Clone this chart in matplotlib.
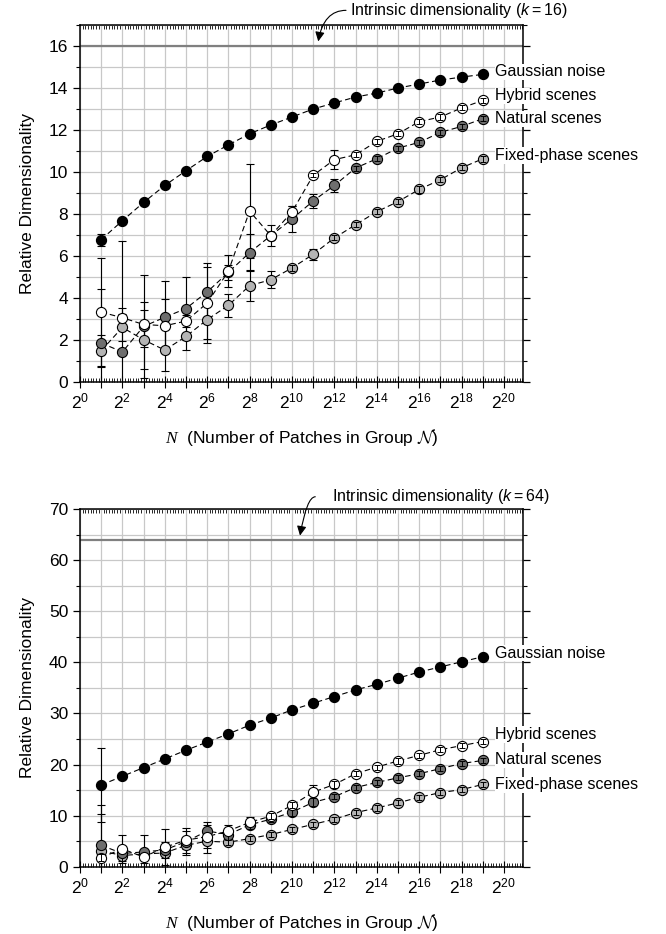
import numpy as np
import matplotlib
matplotlib.use('Agg')
import matplotlib.pyplot as plt
from matplotlib.ticker import FixedLocator, FuncFormatter, MultipleLocator, NullFormatter

plt.rcParams['font.family'] = ['Liberation Sans', 'DejaVu Sans']
plt.rcParams['mathtext.fontset'] = 'custom'
plt.rcParams['mathtext.rm'] = 'Liberation Sans'
plt.rcParams['mathtext.it'] = 'Liberation Sans:italic'
plt.rcParams['mathtext.sf'] = 'Liberation Serif:italic'
plt.rcParams['mathtext.cal'] = 'cmsy10'

# group sizes N = 2^1 ... 2^19
exponents = np.arange(1, 20)

series_names = ['Gaussian noise', 'Hybrid scenes', 'Natural scenes', 'Fixed-phase scenes']
series_colors = ['#000000', '#ffffff', '#6e6e6e', '#b4b4b4']

# k = 16 panel
gauss16 = [6.78, 7.68, 8.55, 9.36, 10.06, 10.74, 11.29, 11.82, 12.24, 12.62,
           13.00, 13.29, 13.57, 13.76, 14.00, 14.19, 14.38, 14.52, 14.65]
hybrid16 = [3.33, 3.06, 2.74, 2.68, 2.90, 3.76, 5.27, 8.14, 6.97, 8.10,
            9.84, 10.59, 10.82, 11.46, 11.82, 12.40, 12.62, 13.05, 13.41]
natural16 = [1.86, 1.43, 2.65, 3.08, 3.50, 4.29, 5.22, 6.16, 6.97, 7.76,
             8.62, 9.36, 10.19, 10.63, 11.14, 11.41, 11.89, 12.17, 12.54]
fixed16 = [1.49, 2.60, 2.01, 1.52, 2.17, 2.97, 3.65, 4.59, 4.87, 5.43,
           6.08, 6.86, 7.49, 8.11, 8.59, 9.17, 9.63, 10.20, 10.63]
gauss16_err = [0.28, 0.10, 0.10, 0.10, 0.10, 0.10, 0.10, 0.10, 0.10, 0.10,
               0.10, 0.10, 0.10, 0.10, 0.10, 0.10, 0.10, 0.10, 0.10]
hybrid16_err = [2.56, 0.48, 1.07, 1.27, 0.30, 1.72, 0.76, 2.22, 0.50, 0.30,
                0.10, 0.45, 0.12, 0.12, 0.12, 0.12, 0.15, 0.12, 0.12]
natural16_err = [2.58, 5.28, 2.45, 1.71, 1.50, 1.38, 0.35, 0.87, 0.20, 0.64,
                 0.33, 0.30, 0.12, 0.12, 0.12, 0.12, 0.12, 0.12, 0.12]
fixed16_err = [0.76, 0.65, 1.40, 1.00, 0.63, 1.11, 0.55, 0.73, 0.40, 0.12,
               0.25, 0.12, 0.12, 0.12, 0.12, 0.15, 0.12, 0.12, 0.15]

# k = 64 panel
gauss64 = [16.0, 17.7, 19.4, 21.1, 22.8, 24.4, 26.0, 27.7, 29.1, 30.7,
           32.0, 33.3, 34.6, 35.7, 36.9, 38.1, 39.1, 40.1, 41.1]
hybrid64 = [1.8, 3.5, 1.9, 3.8, 5.2, 5.9, 7.0, 8.7, 9.9, 12.0,
            14.6, 16.1, 18.2, 19.5, 20.7, 21.8, 22.9, 23.7, 24.5]
natural64 = [4.2, 2.6, 2.9, 3.3, 4.9, 7.0, 6.3, 8.2, 9.3, 10.7,
             12.6, 13.7, 15.5, 16.5, 17.4, 18.2, 19.2, 20.2, 20.8]
fixed64 = [3.1, 2.2, 2.5, 2.7, 4.2, 5.0, 4.8, 5.5, 6.3, 7.3,
           8.3, 9.3, 10.6, 11.5, 12.5, 13.6, 14.5, 15.1, 16.1]
gauss64_err = [7.3, 0.4, 0.4, 0.4, 0.4, 0.4, 0.4, 0.4, 0.4, 0.4,
               0.4, 0.4, 0.4, 0.4, 0.4, 0.4, 0.4, 0.4, 0.4]
hybrid64_err = [0.6, 2.8, 1.2, 3.5, 1.7, 2.3, 1.2, 1.1, 0.6, 0.6,
                1.4, 0.6, 0.5, 0.5, 0.5, 0.5, 0.5, 0.5, 0.5]
natural64_err = [7.8, 1.5, 3.3, 1.6, 2.6, 1.8, 1.0, 0.8, 0.6, 0.8,
                 0.8, 0.5, 0.5, 0.5, 0.5, 0.5, 0.5, 0.5, 0.5]
fixed64_err = [7.3, 1.0, 1.0, 1.0, 1.6, 2.3, 0.5, 0.5, 0.5, 0.5,
               0.5, 0.5, 0.5, 0.5, 0.5, 0.5, 0.5, 0.5, 0.5]


def draw_panel(ax, values, errors, k, ymax, ymajor, yminor, label_y, small_err,
               arrow_head, arrow_tail, text_pos):
    """Draws one panel of relative dimensionality vs group size"""
    N = 2.0 ** exponents

    # horizontal line at the intrinsic dimensionality
    ax.axhline(k, color='#808080', lw=1.6, zorder=1.2)

    # draw in reverse so hybrid and gaussian markers sit on top
    for i in [3, 2, 1, 0]:
        vals = np.array(values[i])
        errs = np.array(errors[i])
        z = 2 + 0.1 * (3 - i)
        ax.plot(N, vals, ls=(0, (5, 3)), color='black', lw=0.8, marker='o',
                ms=7.3, mfc=series_colors[i], mec='black', mew=0.8, zorder=z)
        # big error bars start at the marker, small ones sit on top of it
        big = errs > small_err
        ax.errorbar(N[big], vals[big], yerr=errs[big], fmt='none', ecolor='black',
                    elinewidth=0.8, capsize=3, capthick=0.8, zorder=1.5)
        ax.errorbar(N[~big], vals[~big], yerr=errs[~big], fmt='none', ecolor='black',
                    elinewidth=0.7, capsize=2.5, capthick=0.7, zorder=z + 0.05)

    # series labels on the right, with white boxes over the frame
    for name, y in zip(series_names, label_y):
        ax.text(2 ** 19.6, y, name, ha='left', va='center', fontsize=11.5,
                clip_on=False, zorder=5,
                bbox=dict(facecolor='white', edgecolor='none', pad=0.5))

    ax.annotate('', xy=arrow_head, xytext=arrow_tail, annotation_clip=False,
                arrowprops=dict(arrowstyle='-|>', color='black', lw=0.8,
                                connectionstyle='angle3,angleA=0,angleB=80',
                                shrinkA=0, shrinkB=0, mutation_scale=14))
    ax.text(text_pos[0], text_pos[1], r'Intrinsic dimensionality ($k=%d$)' % k,
            ha='left', va='center', fontsize=11.5, clip_on=False)

    ax.set_xscale('log', base=2)
    ax.set_xlim(1, 2 ** 20.9)
    ax.set_ylim(0, ymax)

    ax.xaxis.set_major_locator(FixedLocator([2.0 ** e for e in range(0, 21)]))
    ax.xaxis.set_major_formatter(FuncFormatter(
        lambda v, p: '$2^{%d}$' % round(np.log2(v)) if round(np.log2(v)) % 2 == 0 else ''))
    minor = [2.0 ** (e + s / 8.0) for e in range(0, 21) for s in range(1, 8)]
    ax.xaxis.set_minor_locator(FixedLocator(minor))
    ax.xaxis.set_minor_formatter(NullFormatter())
    ax.yaxis.set_major_locator(MultipleLocator(ymajor))
    ax.yaxis.set_minor_locator(MultipleLocator(yminor))

    ax.grid(which='major', axis='both', color='#c8c8c8', lw=0.9, zorder=0)
    ax.grid(which='minor', axis='y', color='#c8c8c8', lw=0.9, zorder=0)
    ax.set_axisbelow(True)

    ax.tick_params(axis='x', which='major', direction='inout', length=8, width=0.8,
                   labelsize=12.5, pad=3, top=False)
    ax.tick_params(axis='x', which='minor', direction='in', length=3, width=0.6, top=True)
    ax.tick_params(axis='y', which='major', direction='out', length=5, width=0.9,
                   labelsize=12.5, right=True)
    ax.tick_params(axis='y', which='minor', direction='out', length=3, width=0.8, right=True)
    for side in ax.spines:
        ax.spines[side].set_linewidth(1.1)

    ax.set_xlabel(r'$\mathsf{N}$  (Number of Patches in Group $\mathcal{N}$)',
                  fontsize=12.5, labelpad=11)
    ax.set_ylabel('Relative Dimensionality', fontsize=12.5, labelpad=10)


fig = plt.figure(figsize=(6.66, 9.34), dpi=100)
ax1 = fig.add_axes([0.1201, 0.591, 0.6652, 0.3822])
ax2 = fig.add_axes([0.1201, 0.072, 0.6652, 0.383])

draw_panel(ax1, [gauss16, hybrid16, natural16, fixed16],
           [gauss16_err, hybrid16_err, natural16_err, fixed16_err],
           16, 17, 2, 1, [14.78, 13.63, 12.54, 10.79], 0.24,
           (2 ** 11.24, 16.22), (2 ** 12.55, 17.7), (2 ** 12.75, 17.7))
draw_panel(ax2, [gauss64, hybrid64, natural64, fixed64],
           [gauss64_err, hybrid64_err, natural64_err, fixed64_err],
           64, 70, 10, 5, [41.8, 25.9, 20.9, 16.0], 1.0,
           (2 ** 10.38, 64.8), (2 ** 11.1, 72.4), (2 ** 11.87, 72.4))

fig.savefig('out.png', dpi=100)
